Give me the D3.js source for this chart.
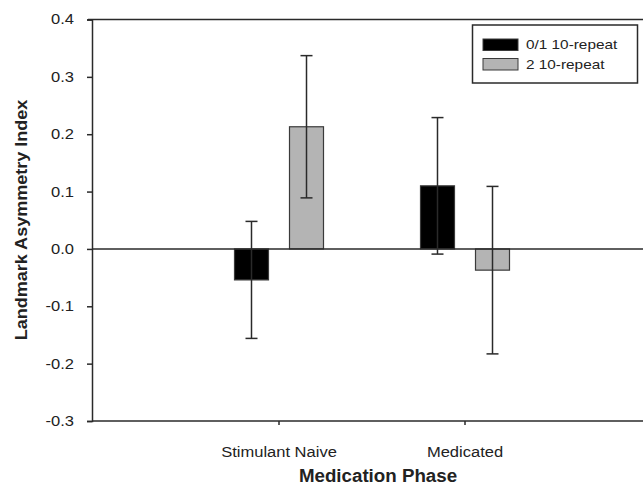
<!DOCTYPE html>
<html>
<head>
<meta charset="utf-8">
<script src="https://cdn.jsdelivr.net/npm/d3@7"></script>
<style>
  body { margin: 0; background: #fff; }
  text { font-family: Arial, "Liberation Sans", sans-serif; fill: #222; }
</style>
</head>
<body>
<svg width="643" height="487"></svg>
<script>
var categories = ["Stimulant Naive", "Medicated"];
var series = ["0/1 10-repeat", "2 10-repeat"];
var means = [[-0.054, 0.213], [0.110, -0.037]];
var errors = [[0.102, 0.124], [0.119, 0.146]];
var yTicks = [0.4, 0.3, 0.2, 0.1, 0.0, -0.1, -0.2, -0.3];
var colors = ["#000000", "#b4b4b4"];

var svg = d3.select("svg"),
    width = +svg.attr("width"),
    height = +svg.attr("height");

var plotLeft = 92, plotRight = 643, plotTop = 19.5, plotBottom = 421;
var ink = "#2a2a2a";
var font = "Arial, 'Liberation Sans', sans-serif";

// the reference text looks horizontally stretched, so widen glyphs a bit
function stretch(sel, k) {
  sel.each(function() {
    var w = this.getComputedTextLength();
    d3.select(this).attr("textLength", w * k).attr("lengthAdjust", "spacingAndGlyphs");
  });
}

var y = d3.scaleLinear().domain([-0.3, 0.4]).range([plotBottom, plotTop]);
var x0 = d3.scaleBand().domain(categories).range([186, 558]);
var x1 = d3.scaleBand().domain(series).range([-44.5, 44.5]).paddingInner(0.382);

// frame lines
svg.append("line").attr("x1", plotLeft - 4).attr("x2", plotRight).attr("y1", plotTop).attr("y2", plotTop)
    .attr("stroke", ink).attr("stroke-width", 1.5);
svg.append("line").attr("x1", plotLeft).attr("x2", plotRight).attr("y1", plotBottom).attr("y2", plotBottom)
    .attr("stroke", ink).attr("stroke-width", 1.5);

// y axis (plain hyphen for negatives, like the original)
var yAxis = svg.append("g")
    .attr("transform", "translate(" + plotLeft + ",0)")
    .call(d3.axisLeft(y).tickValues(yTicks).tickFormat(d => d.toFixed(1)).tickSize(5).tickPadding(13));
yAxis.select(".domain").attr("stroke", ink).attr("stroke-width", 1.5);
yAxis.selectAll(".tick line").attr("stroke", ink).attr("stroke-width", 1.5);
yAxis.selectAll(".tick text").attr("font-size", 14).attr("font-family", font).attr("fill", "#222")
    .call(stretch, 1.18);

// x axis
var xAxis = svg.append("g")
    .attr("transform", "translate(0," + plotBottom + ")")
    .call(d3.axisBottom(x0).tickSize(4).tickPadding(22));
xAxis.select(".domain").remove();
xAxis.selectAll(".tick line").attr("stroke", ink).attr("stroke-width", 1.5);
xAxis.selectAll(".tick text").attr("font-size", 14).attr("font-family", font).attr("fill", "#222")
    .call(stretch, 1.18);

// bars
var groups = svg.append("g").selectAll("g")
    .data(categories)
    .enter().append("g")
    .attr("transform", d => "translate(" + (x0(d) + x0.bandwidth() / 2) + ",0)");

groups.selectAll("rect")
    .data((d, i) => series.map((s, j) => ({s: s, j: j, v: means[i][j], e: errors[i][j]})))
    .enter().append("rect")
    .attr("x", d => x1(d.s))
    .attr("width", x1.bandwidth())
    .attr("y", d => y(Math.max(0, d.v)))
    .attr("height", d => Math.abs(y(d.v) - y(0)))
    .attr("fill", d => colors[d.j])
    .attr("stroke", "#3a3a3a")
    .attr("stroke-width", 1.2);

// zero line
svg.append("line").attr("x1", plotLeft).attr("x2", plotRight).attr("y1", y(0)).attr("y2", y(0))
    .attr("stroke", ink).attr("stroke-width", 1.5);

// error bars
var eb = groups.selectAll("g.err")
    .data((d, i) => series.map((s, j) => ({s: s, v: means[i][j], e: errors[i][j]})))
    .enter().append("g").attr("class", "err")
    .attr("stroke", ink).attr("stroke-width", 1.5);
var cx = d => x1(d.s) + x1.bandwidth() / 2;
eb.append("line")
    .attr("x1", cx).attr("x2", cx)
    .attr("y1", d => y(d.v + d.e)).attr("y2", d => y(d.v - d.e));
eb.append("line")
    .attr("x1", d => cx(d) - 6).attr("x2", d => cx(d) + 6)
    .attr("y1", d => y(d.v + d.e)).attr("y2", d => y(d.v + d.e));
eb.append("line")
    .attr("x1", d => cx(d) - 6).attr("x2", d => cx(d) + 6)
    .attr("y1", d => y(d.v - d.e)).attr("y2", d => y(d.v - d.e));

// legend
var legend = svg.append("g");
legend.append("rect").attr("x", 472.5).attr("y", 25).attr("width", 165).attr("height", 58)
    .attr("fill", "#fff").attr("stroke", ink).attr("stroke-width", 1.5);
var item = legend.selectAll("g.item").data(series).enter().append("g")
    .attr("transform", (d, i) => "translate(483," + (39 + i * 19.5) + ")");
item.append("rect").attr("width", 35).attr("height", 11.5)
    .attr("fill", (d, i) => colors[i]).attr("stroke", "#3a3a3a").attr("stroke-width", 1);
item.append("text").attr("x", 43).attr("y", 10).attr("font-size", 13).text(d => d)
    .call(stretch, 1.18);

// axis titles
svg.append("text")
    .attr("transform", "translate(27,220) rotate(-90)")
    .attr("text-anchor", "middle").attr("font-size", 17).attr("font-weight", "bold")
    .text("Landmark Asymmetry Index")
    .call(stretch, 1.06);
svg.append("text")
    .attr("x", 378).attr("y", 482)
    .attr("text-anchor", "middle").attr("font-size", 17.5).attr("font-weight", "bold")
    .text("Medication Phase")
    .call(stretch, 1.07);
</script>
</body>
</html>
